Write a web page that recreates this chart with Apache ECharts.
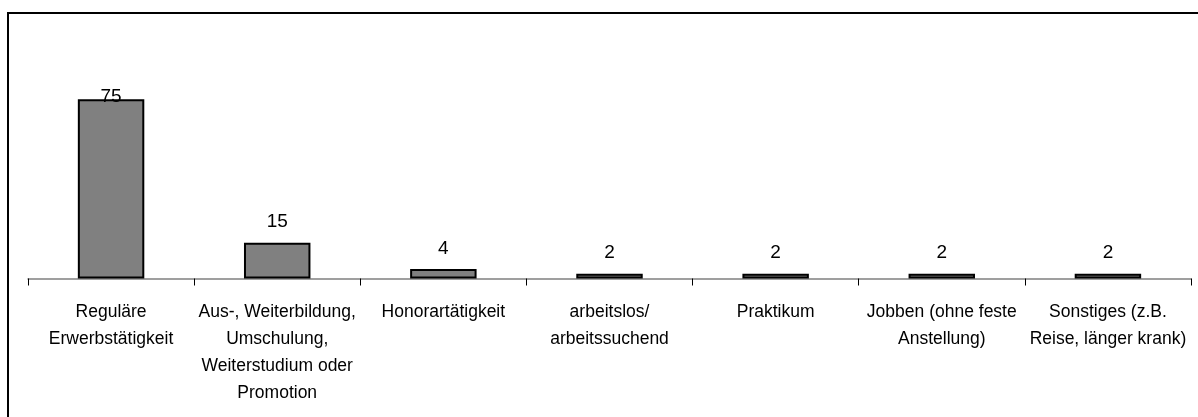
<!DOCTYPE html>
<html>
<head>
<meta charset="utf-8">
<script src="https://cdn.jsdelivr.net/npm/echarts@6/dist/echarts.min.js"></script>
<style>
html,body{margin:0;padding:0;background:#fff;}
#chart{width:1198px;height:417px;}
</style>
</head>
<body>
<div id="chart"></div>
<script>
const categories = [
  "Reguläre\nErwerbstätigkeit",
  "Aus-, Weiterbildung,\nUmschulung,\nWeiterstudium oder\nPromotion",
  "Honorartätigkeit",
  "arbeitslos/\narbeitssuchend",
  "Praktikum",
  "Jobben (ohne feste\nAnstellung)",
  "Sonstiges (z.B.\nReise, länger krank)"
];
const values = [75, 15, 4, 2, 2, 2, 2];

const FONT = "'Liberation Sans Narrow', 'Arial Narrow', 'Liberation Sans', Arial, sans-serif";
const chart = echarts.init(document.getElementById('chart'));
chart.setOption({
  animation: false,
  backgroundColor: '#fff',
  graphic: [{
    type: 'rect',
    shape: { x: 8, y: 13, width: 1300, height: 500 },
    style: { fill: 'none', stroke: '#000', lineWidth: 2 },
    silent: true
  }],
  grid: { left: 28, right: 7, top: 39.5, bottom: 138.5 },
  xAxis: {
    type: 'category',
    data: categories,
    axisLine: { lineStyle: { color: '#808080', width: 1.5 } },
    axisTick: { show: true, length: 7, lineStyle: { color: '#000', width: 1 } },
    axisLabel: {
      interval: 0,
      margin: 20.5,
      fontFamily: FONT,
      fontSize: 17.5,
      lineHeight: 27,
      color: '#000'
    }
  },
  yAxis: {
    type: 'value',
    min: 0, max: 100,
    show: false,
    splitLine: { show: false }
  },
  series: [{
    type: 'bar',
    data: values.map((v, i) => i === 0
      ? { value: v, label: { distance: -7.5 } }
      : v),
    barWidth: '40%',
    itemStyle: { color: '#808080', borderColor: '#000', borderWidth: 2 },
    label: {
      show: true,
      position: 'top',
      distance: 11,
      fontFamily: FONT,
      fontSize: 19,
      color: '#000'
    }
  }]
});
</script>
</body>
</html>
